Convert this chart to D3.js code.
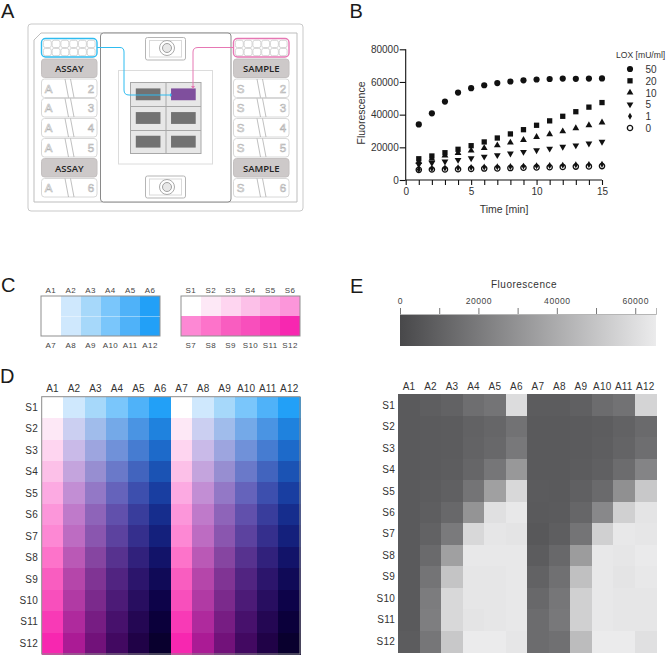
<!DOCTYPE html>
<html>
<head>
<meta charset="utf-8">
<script src="https://cdn.jsdelivr.net/npm/d3@7"></script>
<style>
  body { margin: 0; background: #fff; }
  text { font-family: "Liberation Sans", Arial, sans-serif; }
</style>
</head>
<body>
<div id="chart"></div>
<script>
// ---- data ----
const minutes = [1, 2, 3, 4, 5, 6, 7, 8, 9, 10, 11, 12, 13, 14, 15];
const lox50 = [34000, 40800, 48000, 53500, 56200, 58000, 59300, 60300, 61000, 61500, 61800, 62100, 61900, 62100, 62200];
const lox20 = [13000, 14700, 16700, 18800, 21000, 23300, 25700, 28200, 30800, 33500, 36200, 39000, 41800, 44600, 47400];
const lox10 = [11000, 13000, 15000, 16500, 18000, 19500, 21200, 22900, 24500, 26300, 28000, 29800, 31700, 33500, 35200];
const lox5 = [9500, 10500, 11300, 12300, 13300, 14300, 15200, 16200, 17200, 18200, 19200, 20300, 21200, 22300, 23400];
const lox1 = [6500, 7000, 7300, 7500, 7700, 7900, 8100, 8300, 8500, 8700, 8900, 9100, 9300, 9500, 9700];
const lox0 = [6200, 6400, 6500, 6600, 6800, 7000, 7100, 7300, 7500, 7700, 7800, 8000, 8200, 8300, 8500];
const loxLabels = ["50", "20", "10", "5", "1", "0"];

const assayNames = ["A1", "A2", "A3", "A4", "A5", "A6", "A7", "A8", "A9", "A10", "A11", "A12"];
const sampleNames = ["S1", "S2", "S3", "S4", "S5", "S6", "S7", "S8", "S9", "S10", "S11", "S12"];

// dilution steps of panel C, same colours get mixed in panel D
const assaySteps = ["#ffffff", "#cfe8fd", "#a6d8fa", "#7ac6fb", "#4fb2f9", "#22a0f7"];
const sampleSteps = ["#ffffff", "#fde8f6", "#fed5f0", "#fcc0e8", "#fcaae2", "#fc96da", "#fd88d4", "#fd73ca", "#f95dc0", "#f84fbc", "#f83ab6", "#f727b0"];

// panel E, one row per sample, one value per assay well
const fluorescence = [
  [7200, 8800, 10400, 15200, 17600, 59200, 8000, 8000, 9600, 14400, 16800, 56000],
  [7200, 7600, 8000, 10400, 12000, 16800, 7200, 7200, 7600, 8400, 10400, 13600],
  [7200, 7600, 8000, 10800, 12800, 19200, 7200, 7200, 7600, 8800, 11200, 15200],
  [7200, 7600, 8400, 12000, 18400, 32000, 7200, 7200, 8000, 9600, 14400, 24000],
  [7200, 8000, 9600, 17600, 35200, 57600, 7600, 7200, 9600, 13600, 28800, 51200],
  [7200, 8800, 12800, 30400, 60800, 64000, 7200, 7600, 12000, 25600, 54400, 62400],
  [7200, 10400, 20000, 57600, 63200, 62400, 6400, 8800, 17600, 54400, 64000, 63200],
  [7200, 13600, 35200, 64000, 64000, 64000, 8000, 12800, 33600, 64000, 63200, 64800],
  [7200, 17600, 49600, 63200, 63200, 64000, 10400, 16000, 48000, 64000, 62400, 64000],
  [7200, 20800, 57600, 63200, 63200, 64000, 12800, 18400, 54400, 64000, 63200, 63200],
  [7200, 21600, 57600, 62400, 63200, 64000, 14400, 19200, 54400, 64000, 63200, 63200],
  [8000, 18400, 51200, 65200, 65200, 63200, 14400, 16000, 46400, 65200, 65200, 60800]
];
const barTicks = [0, 10000, 20000, 30000, 40000, 50000, 60000];

// panel A strips
const stripLabels = ["", "2", "3", "4", "5", "", "6"];

const svg = d3.select("#chart").append("svg")
  .attr("width", 666)
  .attr("height", 655)
  .style("display", "block");

// panel letters
[["A", 1, 18], ["B", 349.5, 18], ["C", 1, 292], ["D", 0, 382.5], ["E", 350, 293]].forEach(d => {
  svg.append("text").attr("x", d[1]).attr("y", d[2])
    .attr("font-size", 20).attr("fill", "#1a1a1a").text(d[0]);
});

// ---- A: cartridge schematic ----
const a = svg.append("g");

a.append("rect").attr("x", 28).attr("y", 24).attr("width", 275).attr("height", 187).attr("rx", 3)
  .attr("fill", "#fff").attr("stroke", "#c9c9c9");
a.append("path").attr("d", "M34,40L41,33H297V202H34Z")
  .attr("fill", "#fff").attr("stroke", "#bdbdbd");
a.append("rect").attr("x", 100.5).attr("y", 33).attr("width", 130.5).attr("height", 169).attr("rx", 3)
  .attr("fill", "#fff").attr("stroke", "#8a8a8a");

// connectors top and bottom
[[37.5, 48], [176, 187]].forEach(d => {
  const h = d[0] < 100 ? 22.5 : 22;
  a.append("rect").attr("x", 145.5).attr("y", d[0]).attr("width", 40).attr("height", h).attr("rx", 2)
    .attr("fill", "#fff").attr("stroke", "#b5b5b5");
  a.append("rect").attr("x", 149.5).attr("y", d[0] + 3).attr("width", 32).attr("height", h - 6)
    .attr("fill", "#fff").attr("stroke", "#dadada");
  a.append("circle").attr("cx", 167).attr("cy", d[1]).attr("r", 7.5)
    .attr("fill", "#fff").attr("stroke", "#aaa");
  a.append("circle").attr("cx", 167).attr("cy", d[1]).attr("r", 4.5)
    .attr("fill", "#e8e8e8").attr("stroke", "#a0a0a0");
});

a.append("rect").attr("x", 118.5).attr("y", 70.5).attr("width", 94).attr("height", 93.5)
  .attr("fill", "#fff").attr("stroke", "#dcdcdc");
a.append("rect").attr("x", 130.5).attr("y", 82.5).attr("width", 70.5).attr("height", 71)
  .attr("fill", "#e7e7e7").attr("stroke", "#a8a8a8");
a.append("path").attr("d", "M166,82.5V153.5M130.5,106.5H201M130.5,130.5H201")
  .attr("fill", "none").attr("stroke", "#a8a8a8");

const padX = d3.scaleBand().domain([0, 1]).range([130.5, 201]).paddingInner(0.3).paddingOuter(0.15);
const padY = d3.scaleBand().domain([0, 1, 2]).range([82.5, 153.5]).paddingInner(0.5).paddingOuter(0.25);
[0, 1, 2].forEach(r => [0, 1].forEach(c => {
  a.append("rect").attr("x", padX(c)).attr("y", padY(r))
    .attr("width", padX.bandwidth()).attr("height", padY.bandwidth())
    .attr("fill", r === 0 && c === 1 ? "#7f4f9d" : "#727272");
}));

// reagent columns, left assay, right sample
function reagentColumn(x0, letter, word, color, slashX) {
  const w = 55.5;
  const tops = [59, 79, 98.5, 118.5, 138.5, 158.5, 178.5];
  stripLabels.forEach((num, i) => {
    const y = tops[i], h = 18.5;
    if (num === "") {
      a.append("rect").attr("x", x0).attr("y", y).attr("width", w).attr("height", h).attr("rx", 3)
        .attr("fill", "#cdc9c9").attr("stroke", "#c4c0c0");
      a.append("text").attr("x", x0 + w / 2).attr("y", y + 13).attr("text-anchor", "middle")
        .style("font-family", "'Open Sans', sans-serif").attr("font-weight", 600)
        .attr("font-size", 9.5).attr("fill", "#222").text(word);
    } else {
      a.append("rect").attr("x", x0).attr("y", y).attr("width", w).attr("height", h).attr("rx", 3)
        .attr("fill", "#fff").attr("stroke", "#d8d8d8");
      a.append("path").attr("d", `M${slashX},${y}L${slashX + 3.5},${y + h}M${slashX + 5.5},${y}L${slashX + 9},${y + h}`)
        .attr("fill", "none").attr("stroke", "#a5a5a5").attr("stroke-width", 0.7);
      [[x0 + 7, letter], [x0 + w - 6, num]].forEach(t => {
        a.append("text").attr("x", t[0]).attr("y", y + 13.5).attr("text-anchor", "middle")
          .attr("font-size", 11.5).attr("fill", "#fff").attr("stroke", "#b3b3b3").attr("stroke-width", 0.6)
          .text(t[1]);
      });
    }
  });
  // well block on top
  const wx = d3.scaleBand().domain(d3.range(6)).range([x0 + 1, x0 + w - 1]).padding(0.1);
  const wy = d3.scaleBand().domain([0, 1]).range([39.5, 56.5]).padding(0.1);
  [0, 1].forEach(r => wx.domain().forEach(c => {
    a.append("rect").attr("x", wx(c)).attr("y", wy(r)).attr("width", wx.bandwidth()).attr("height", wy.bandwidth())
      .attr("rx", 2).attr("fill", "#fff").attr("stroke", "#c4c4c4").attr("stroke-width", 0.7);
  }));
  a.append("rect").attr("x", x0).attr("y", 38.5).attr("width", w).attr("height", 18.5).attr("rx", 4)
    .attr("fill", "none").attr("stroke", color).attr("stroke-width", 1.4);
}
reagentColumn(41.5, "A", "ASSAY", "#2fbcf0", 65);
reagentColumn(233.5, "S", "SAMPLE", "#e678b4", 257);

// wires
a.append("path").attr("d", "M97,47.5H120Q124,47.5 124,52V90Q124,95 129,95H170")
  .attr("fill", "none").attr("stroke", "#2fbcf0").attr("stroke-width", 1);
a.append("path").attr("d", "M170,93L172,95L170,97Z").attr("fill", "#2fbcf0");
a.append("path").attr("d", "M233,47.5H198Q193,47.5 193,52V87")
  .attr("fill", "none").attr("stroke", "#e678b4").attr("stroke-width", 1);
a.append("path").attr("d", "M191,86L193,89L195,86Z").attr("fill", "#e678b4");

// ---- B: time course ----
const x = d3.scaleLinear().domain([0, 15]).range([405.7, 602]);
const y = d3.scaleLinear().domain([0, 80000]).range([180, 49.3]);

const seriesList = [lox50, lox20, lox10, lox5, lox1, lox0];
const symbolList = [
  { type: d3.symbolCircle, size: 30 },
  { type: d3.symbolSquare, size: 28 },
  { type: d3.symbolTriangle, size: 20 },
  { type: d3.symbolTriangle, size: 20, flip: true },
  { type: d3.symbolDiamond, size: 14 },
  { type: d3.symbolCircle, size: 22, hollow: true }
];
const symbolPath = s => d3.symbol().type(s.type).size(s.size)();
const symbolTransform = (s, px, py) => `translate(${px},${py})` + (s.flip ? " rotate(180)" : "");

const xAxis = svg.append("g").attr("transform", "translate(0,180)")
  .call(d3.axisBottom(x).tickValues(d3.range(0, 16)).tickSize(5)
    .tickFormat(d => d % 5 === 0 ? d : ""));
const yAxis = svg.append("g").attr("transform", "translate(405.7,0)")
  .call(d3.axisLeft(y).tickValues([0, 20000, 40000, 60000, 80000]).tickSize(6).tickPadding(1).tickFormat(d3.format("d")));
[xAxis, yAxis].forEach(g => {
  g.selectAll("path, line").attr("stroke", "#111").attr("stroke-width", 1.1);
  g.select(".domain").attr("d", g === xAxis ? "M405.7,0H602" : "M0,180V49.3");
  g.selectAll("text").attr("font-size", 10).attr("fill", "#333")
    .style("font-family", "'Liberation Sans', Arial, sans-serif");
});

seriesList.forEach((vals, k) => {
  const s = symbolList[k];
  svg.append("g").selectAll("path").data(vals).enter().append("path")
    .attr("d", symbolPath(s))
    .attr("transform", (d, i) => symbolTransform(s, x(minutes[i]), y(d)))
    .attr("fill", s.hollow ? "none" : "#111")
    .attr("stroke", s.hollow ? "#111" : "none")
    .attr("stroke-width", 1.3);
});

svg.append("text").attr("x", 504).attr("y", 213).attr("text-anchor", "middle")
  .attr("font-size", 10.5).attr("fill", "#333").text("Time [min]");
svg.append("text").attr("transform", "translate(365,113) rotate(-90)").attr("text-anchor", "middle")
  .attr("font-size", 10.5).attr("fill", "#333").text("Fluorescence");

svg.append("text").attr("x", 616).attr("y", 58).attr("font-size", 8.6).attr("fill", "#333").text("LOX [mU/ml]");
const legendY = d3.scalePoint().domain(loxLabels).range([69, 128]);
loxLabels.forEach((label, k) => {
  const s = symbolList[k];
  svg.append("path").attr("d", symbolPath(s))
    .attr("transform", symbolTransform(s, 630, legendY(label)))
    .attr("fill", s.hollow ? "none" : "#111").attr("stroke", s.hollow ? "#111" : "none").attr("stroke-width", 1.3);
  svg.append("text").attr("x", 645.5).attr("y", legendY(label) + 4).attr("font-size", 10).attr("fill", "#333").text(label);
});

// ---- C: reagent dilution strips ----
function dilutionStrip(x0, names, rowColors) {
  const cx = d3.scaleBand().domain(d3.range(6)).range([x0, x0 + 119]);
  const cy = d3.scaleBand().domain([0, 1]).range([296, 336]);
  rowColors.forEach((colors, r) => {
    colors.forEach((col, c) => {
      svg.append("rect").attr("x", cx(c)).attr("y", cy(r))
        .attr("width", cx.bandwidth()).attr("height", cy.bandwidth())
        .attr("fill", col).attr("shape-rendering", "crispEdges");
      svg.append("text").attr("x", cx(c) + cx.bandwidth() / 2).attr("y", r === 0 ? 293 : 348)
        .attr("text-anchor", "middle").attr("font-size", 8).attr("letter-spacing", 0.4)
        .attr("fill", "#444").text(names[r * 6 + c]);
    });
  });
  svg.append("rect").attr("x", x0).attr("y", 296).attr("width", 119).attr("height", 40)
    .attr("fill", "none").attr("stroke", "#8f8f8f");
}
dilutionStrip(41, assayNames, [assaySteps, assaySteps]);
dilutionStrip(181, sampleNames, [sampleSteps.slice(0, 6), sampleSteps.slice(6)]);
// thin pale seam in the blue strip
svg.append("line").attr("x1", 61).attr("x2", 160).attr("y1", 316.5).attr("y2", 316.5)
  .attr("stroke", "#fff").attr("stroke-opacity", 0.4);

// ---- heatmap helper for D and E ----
function heatmap(x0, x1, y0, y1, colorOf, topY, leftX, fontSize) {
  const hx = d3.scaleBand().domain(assayNames).range([x0, x1]);
  const hy = d3.scaleBand().domain(sampleNames).range([y0, y1]);
  const g = svg.append("g");
  sampleNames.forEach((s, r) => {
    g.selectAll(null).data(assayNames).enter().append("rect")
      .attr("x", d => hx(d)).attr("y", hy(s))
      .attr("width", hx.bandwidth() + 0.5).attr("height", hy.bandwidth() + 0.5)
      .attr("shape-rendering", "crispEdges")
      .attr("fill", (d, c) => colorOf(r, c));
  });
  g.selectAll(null).data(assayNames).enter().append("text")
    .attr("x", d => hx(d) + hx.bandwidth() / 2).attr("y", topY)
    .attr("text-anchor", "middle").attr("font-size", fontSize).attr("letter-spacing", 0.2)
    .attr("fill", "#333").text(d => d);
  g.selectAll(null).data(sampleNames).enter().append("text")
    .attr("x", leftX).attr("y", d => hy(d) + hy.bandwidth() / 2 + fontSize * 0.36)
    .attr("text-anchor", "end").attr("font-size", fontSize).attr("letter-spacing", 0.2)
    .attr("fill", "#333").text(d => d);
}

// ---- D: assay x sample mix, colour follows the two dilution steps ----
const assayStep = d3.scaleOrdinal().domain(d3.range(12)).range(assaySteps);
const mixColor = (r, c) => {
  const ca = d3.rgb(assayStep(c)), cs = d3.rgb(sampleSteps[r]);
  const mix = ((c % 6) / 5) * (r / 11);
  const dark = 1 - 0.73 * mix;
  const darkG = Math.max(0, 1 - 1.15 * mix); // green drops faster than the other two
  return d3.rgb(ca.r * cs.r / 255 * dark, ca.g * cs.g / 255 * darkG, ca.b * cs.b / 255 * dark).formatHex();
};
heatmap(41.7, 300, 396.7, 654, mixColor, 392, 38, 10);
svg.append("rect").attr("x", 41.7).attr("y", 396.7).attr("width", 258.3).attr("height", 257.3)
  .attr("fill", "none").attr("stroke", "#8a8a8a");

// ---- E: fluorescence heatmap and colour bar ----
const grey = d3.scaleLinear().domain([0, 65300]).range(["#48484a", "#ebebec"]).clamp(true);
heatmap(398.3, 656, 394.3, 652, (r, c) => grey(fluorescence[r][c]), 390, 395, 10);

const barX = d3.scaleLinear().domain([0, 65300]).range([400, 656]);
const grad = svg.append("defs").append("linearGradient").attr("id", "greyBar");
grad.selectAll("stop").data(grey.domain()).enter().append("stop")
  .attr("offset", d => d / 65300).attr("stop-color", d => grey(d));
svg.append("rect").attr("x", 400).attr("y", 314).attr("width", 256).attr("height", 32).attr("fill", "url(#greyBar)");
const barAxis = svg.append("g").attr("transform", "translate(0,314)")
  .call(d3.axisTop(barX).tickValues(barTicks).tickSize(6).tickPadding(4)
    .tickFormat(d => d % 20000 === 0 ? d : ""));
barAxis.select(".domain").attr("stroke", "#b5b5b5");
barAxis.selectAll("line").attr("stroke", "#777");
barAxis.selectAll("text").attr("font-size", 8.6).attr("letter-spacing", 0.5).attr("fill", "#444")
  .style("font-family", "'Liberation Sans', Arial, sans-serif");
svg.append("text").attr("x", 524).attr("y", 288).attr("text-anchor", "middle")
  .attr("font-size", 10).attr("letter-spacing", 0.5).attr("fill", "#333").text("Fluorescence");
</script>
</body>
</html>
